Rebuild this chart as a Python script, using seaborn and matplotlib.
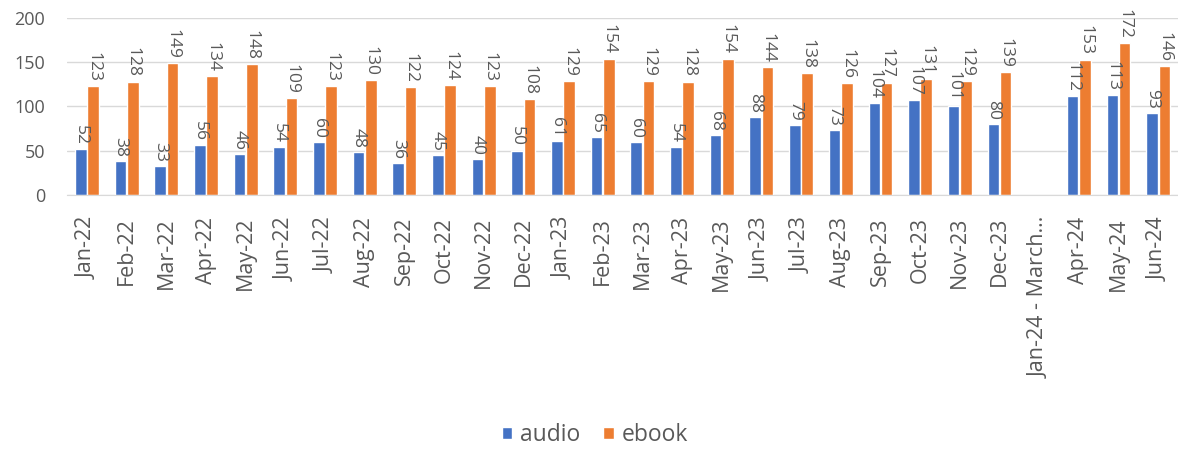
import numpy as np
import pandas as pd
import matplotlib
matplotlib.use("Agg")
import matplotlib.pyplot as plt
import seaborn as sns

months = ["Jan-22", "Feb-22", "Mar-22", "Apr-22", "May-22", "Jun-22", "Jul-22", "Aug-22",
          "Sep-22", "Oct-22", "Nov-22", "Dec-22", "Jan-23", "Feb-23", "Mar-23", "Apr-23",
          "May-23", "Jun-23", "Jul-23", "Aug-23", "Sep-23", "Oct-23", "Nov-23", "Dec-23",
          "Jan-24 - March\u2026", "Apr-24", "May-24", "Jun-24"]
audio = [52, 38, 33, 56, 46, 54, 60, 48, 36, 45, 40, 50, 61, 65, 60, 54,
         68, 88, 79, 73, 104, 107, 101, 80, np.nan, 112, 113, 93]
ebook = [123, 128, 149, 134, 148, 109, 123, 130, 122, 124, 123, 108, 129, 154, 129, 128,
         154, 144, 138, 126, 127, 131, 129, 139, np.nan, 153, 172, 146]
yticks = [0, 50, 100, 150, 200]

df = pd.DataFrame({"month": months, "audio": audio, "ebook": ebook})
long = df.melt(id_vars="month", var_name="type", value_name="count").dropna()

sns.set_style("white")
plt.rcParams["font.family"] = ["Open Sans", "DejaVu Sans"]
grey = "#595959"

fig = plt.figure(figsize=(11.78, 4.49), dpi=100)
ax = fig.add_axes([0.057, 0.566, 0.943, 0.394])

sns.barplot(data=long, x="month", y="count", hue="type", order=months,
            hue_order=["audio", "ebook"], palette=["#4472C4", "#ED7D31"],
            saturation=1, width=0.62, gap=0.06, errorbar=None, ax=ax, legend=True)

for cont in ax.containers:
    ax.bar_label(cont, fmt="%d", rotation=-90, padding=3, fontsize=12.5,
                 color=grey, clip_on=False)

ax.set_ylim(0, 200)
ax.set_yticks(yticks)
ax.set_xlim(-0.5, len(months) - 0.5)
ax.yaxis.grid(True, color="#d9d9d9", linewidth=1)
ax.set_axisbelow(True)
for s in ["top", "right", "left"]:
    ax.spines[s].set_visible(False)
ax.spines["bottom"].set_color("#d9d9d9")
ax.set_xlabel("")
ax.set_ylabel("")

ax.set_xticks(range(len(months)))
ax.set_xticklabels(months, rotation=90, ha="center", va="top")
ax.set_xticks(np.arange(-0.5, len(months), 1), minor=True)
ax.tick_params(axis="x", which="major", length=0, pad=16, labelsize=15.5, labelcolor=grey)
ax.tick_params(axis="x", which="minor", length=12, color="#d9d9d9", width=1)
ax.tick_params(axis="y", length=0, pad=16, labelsize=13, labelcolor=grey)

handles, labels = ax.get_legend_handles_labels()
ax.get_legend().remove()
fig.legend(handles, labels, loc="center", bbox_to_anchor=(0.505, 0.031), ncol=2,
           frameon=False, fontsize=16.5, handlelength=0.45, handleheight=0.45,
           handletextpad=0.35, columnspacing=1.0, labelcolor=grey)

fig.savefig("out.png", dpi=100)
